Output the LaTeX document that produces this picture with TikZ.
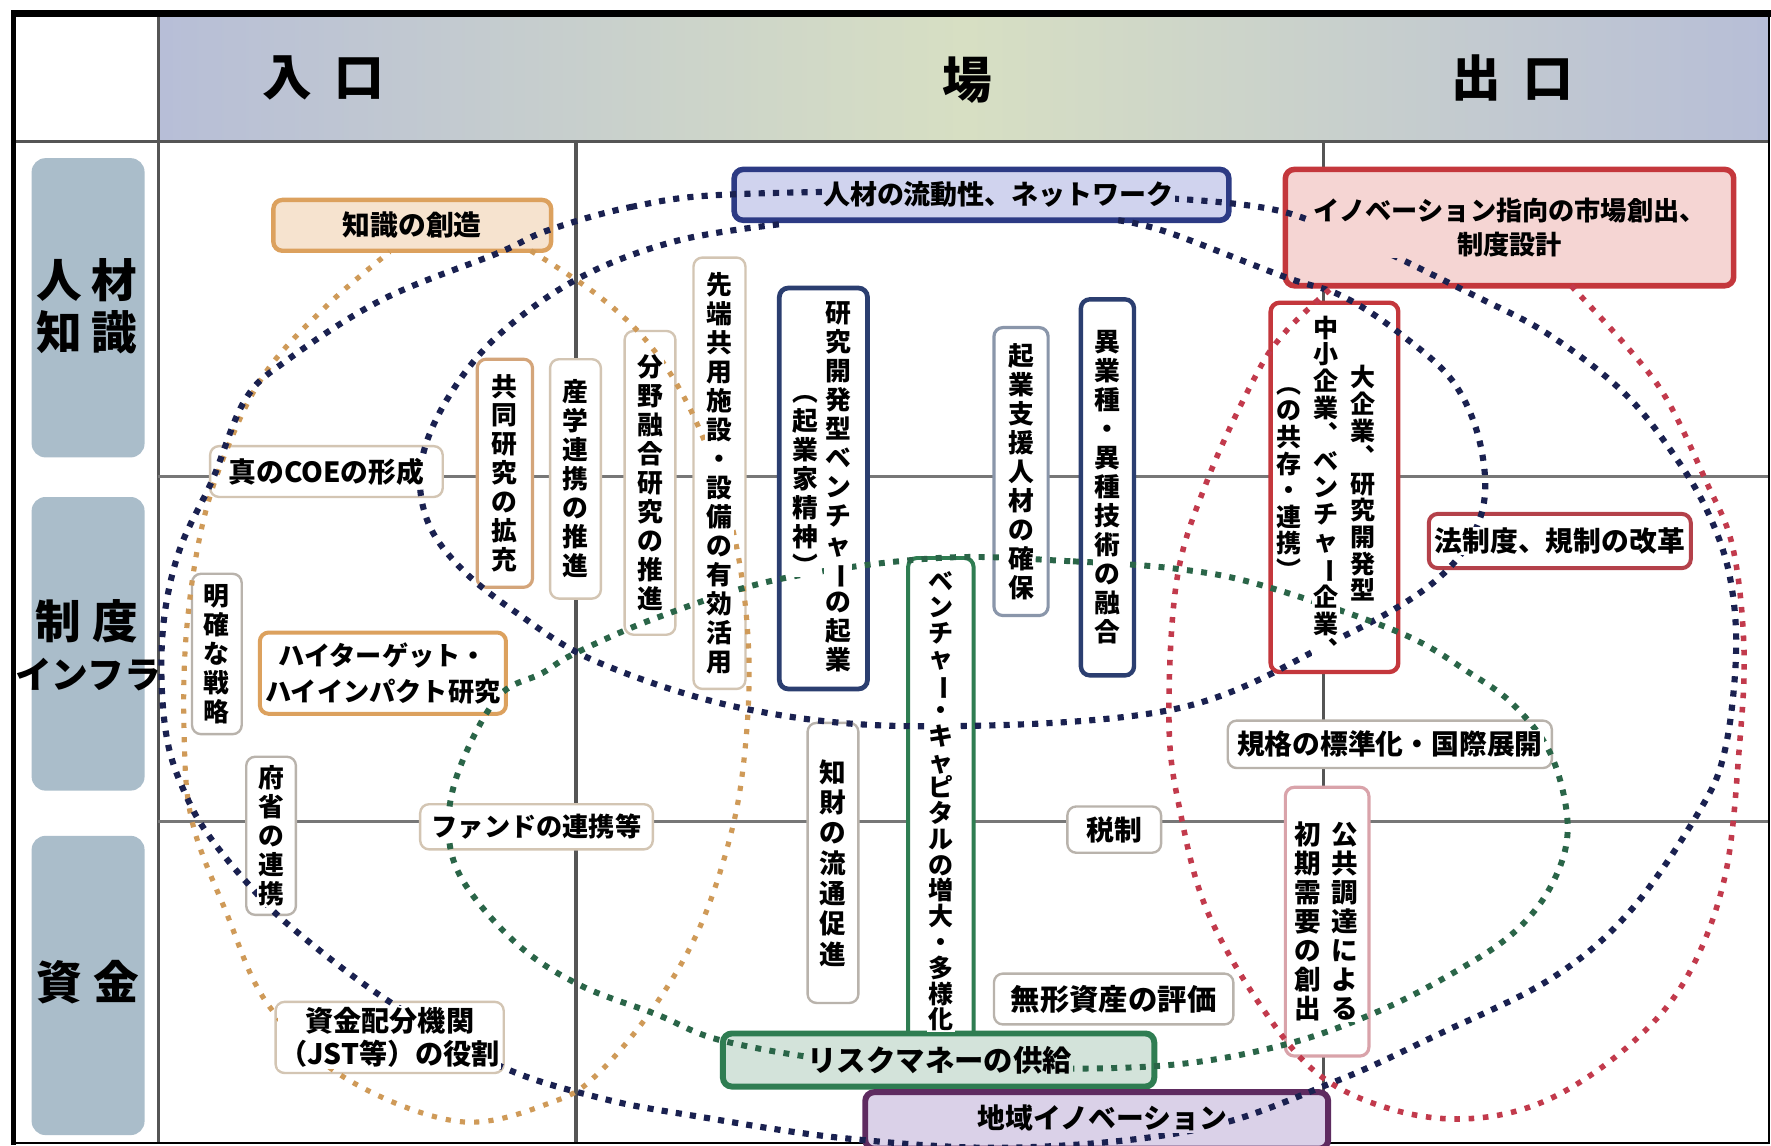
\documentclass[tikz,border=0pt]{standalone}
\usepackage{fontspec}
\setmainfont{Noto Sans CJK JP}
\usepackage{graphicx}
\definecolor{navyd}{HTML}{1A2150}
\definecolor{orgd}{HTML}{CF9A58}
\definecolor{grnd}{HTML}{2A6548}
\definecolor{redd}{HTML}{C23A4C}
\definecolor{hdrb}{HTML}{B7BED7}
\definecolor{hdrg}{HTML}{D7DFC3}
\definecolor{rowb}{HTML}{AABDCA}
\definecolor{gridc}{HTML}{555555}
\definecolor{orangeB}{HTML}{DCA15E}
\definecolor{orangeB2}{HTML}{D4A57A}
\definecolor{navyB}{HTML}{2C3A84}
\definecolor{navyB2}{HTML}{2B3E70}
\definecolor{redB}{HTML}{C4373C}
\definecolor{redB2}{HTML}{B4414A}
\definecolor{greenB}{HTML}{2F7D52}
\definecolor{purpB}{HTML}{5E2B60}
\definecolor{grayB}{HTML}{B9B3AC}
\definecolor{beigeB}{HTML}{D3C5B3}
\definecolor{blueG}{HTML}{8A96AA}
\definecolor{pinkB}{HTML}{D9A3AA}
\definecolor{peach}{HTML}{F6E3CF}
\definecolor{lav}{HTML}{D0D3EE}
\definecolor{pinkF}{HTML}{F5D5D3}
\definecolor{grnF}{HTML}{D3E3DA}
\definecolor{lav2}{HTML}{DAD1E8}
\newcommand\fs[2]{\fontsize{#1}{#2}\selectfont\bfseries}
\newcommand\vlong{\rotatebox[origin=c]{-90}{ー}}
\begin{document}
\begin{tikzpicture}[x=0.02cm,y=-0.02cm,
  bx/.style={draw=#1, rounded corners=4.5pt, line width=1.2pt, fill=white, inner sep=0pt},
  ht/.style={inner sep=0.6pt, font=\fs{14}{17}, align=center, fill=white},
  vt/.style={inner sep=0.6pt, font=\fs{13}{14.6}, align=center, fill=white},
  navydots/.style={draw=navyd, line width=3.1pt, dash pattern=on 3.1pt off 4.1pt},
  orgdots/.style={draw=orgd, line width=2.6pt, dash pattern=on 2.6pt off 4.6pt},
  grndots/.style={draw=grnd, line width=3.0pt, dash pattern=on 3.0pt off 4.2pt},
  reddots/.style={draw=redd, line width=2.8pt, dash pattern=on 2.8pt off 4.4pt},
  rowlab/.style={fill=rowb, rounded corners=7pt, inner sep=0pt},
  gline/.style={draw=gridc, line width=1.6pt}
]
\useasboundingbox (0,0) rectangle (1568,1014);
\fill[white] (0,0) rectangle (1568,1014);
% header band
\shade[left color=hdrb, right color=hdrb, middle color=hdrg] (142,15) rectangle (1566,124);
% row label boxes
\node[rowlab, minimum width=2.0cm, minimum height=5.3cm] (rl1) at (78,272.5) {};
\node[rowlab, minimum width=2.0cm, minimum height=5.2cm] (rl2) at (78,570) {};
\node[rowlab, minimum width=2.0cm, minimum height=5.3cm] (rl3) at (78,872.5) {};
% grid
\draw[gline] (12,125) -- (1566,125);
\draw[gline] (140,12) -- (140,1012);
\draw[gline] (510,125) -- (510,1012);
\draw[gline] (1172,125) -- (1172,1012);
\draw[draw=gridc!80, line width=1.5pt] (140,422) -- (1566,422);
\draw[draw=gridc!80, line width=1.5pt] (140,727) -- (1566,727);
% frame
\draw[black, line width=0.9pt] (12,12) rectangle (1566,1012);
\draw[black, line width=3.2pt] (10,12) -- (1568,12);
\draw[black, line width=2.8pt] (12,10) -- (12,1014);
% header texts
\node[font=\fs{25}{28}] (hin) at (286,69) {入\hspace{0.45em}口};
\node[font=\fs{25}{28}] (hba) at (856,71) {場};
\node[font=\fs{25}{28}] (hout) at (1339,69) {出\hspace{0.45em}口};
% row label texts
\node[font=\fs{23}{26}, align=center] (rl1t) at (77,271) {人\hspace{0.2em}材\\知\hspace{0.2em}識};
\node[font=\fs{23}{26}] (rl2a) at (77,550) {制\hspace{0.25em}度};
\node[font=\fs{18.5}{20}] (rl2b) at (78,597) {インフラ};
\node[font=\fs{23}{26}] (rl3t) at (78,870) {資\hspace{0.25em}金};

% ---------- boxes ----------
\node[bx=orangeB, line width=2.2pt, fill=peach, minimum width=4.92cm, minimum height=0.90cm] (chishiki) at (365,199.5) {};
\node[bx=navyB, line width=2.8pt, fill=lav, minimum width=8.76cm, minimum height=0.90cm] (jinzai) at (869,172.5) {};
\node[bx=redB, line width=2.8pt, fill=pinkF, minimum width=7.94cm, minimum height=2.06cm] (shijo) at (1336.5,201.5) {};
\node[bx=orangeB2, line width=1.6pt, minimum width=0.98cm, minimum height=4.04cm] (kyodo) at (447,419) {};
\node[bx=beigeB, minimum width=0.90cm, minimum height=4.24cm] (sangaku) at (509.5,424) {};
\node[bx=beigeB, minimum width=0.90cm, minimum height=5.38cm] (bunya) at (575.5,427.5) {};
\node[bx=beigeB, minimum width=0.92cm, minimum height=7.64cm] (sentan) at (637,419) {};
\node[bx=navyB2, line width=2.4pt, minimum width=1.56cm, minimum height=7.10cm] (kenkyu) at (729,432.5) {};
\node[bx=blueG, line width=1.6pt, minimum width=0.96cm, minimum height=5.10cm] (kigyo) at (904,417.5) {};
\node[bx=navyB2, line width=2.2pt, minimum width=0.94cm, minimum height=6.66cm] (igyo) at (980.5,431.5) {};
\node[bx=redB, line width=2.2pt, minimum width=2.26cm, minimum height=6.54cm] (dai) at (1181.5,431.5) {};
\node[bx=redB2, line width=2pt, minimum width=4.64cm, minimum height=0.96cm] (hosei) at (1381,479) {};
\node[bx=beigeB, minimum width=4.12cm, minimum height=0.90cm] (coe) at (289,417.5) {};
\node[bx=grayB, minimum width=0.88cm, minimum height=2.84cm] (meikaku) at (192,579) {};
\node[bx=orangeB, line width=2pt, minimum width=4.36cm, minimum height=1.44cm] (hight) at (339,596) {};
\node[bx=grayB, minimum width=5.74cm, minimum height=0.84cm] (kikaku) at (1230.5,659) {};
\node[bx=grayB, minimum width=0.88cm, minimum height=2.80cm] (fusho) at (240,740) {};
\node[bx=beigeB, minimum width=4.12cm, minimum height=0.80cm] (fund) at (475,732) {};
\node[bx=grayB, minimum width=0.90cm, minimum height=4.96cm] (chizai) at (737.5,764) {};
\node[bx=greenB, line width=2pt, minimum width=1.16cm, minimum height=8.62cm] (vc) at (833,709.5) {};
\node[bx=grayB, minimum width=1.66cm, minimum height=0.82cm] (zeisei) at (986.5,734.5) {};
\node[bx=grayB, minimum width=4.24cm, minimum height=0.90cm] (mukei) at (986,884.5) {};
\node[bx=pinkB, line width=1.6pt, minimum width=1.48cm, minimum height=4.76cm] (kokyo) at (1175,816) {};
\node[bx=beigeB, minimum width=4.04cm, minimum height=1.26cm] (shikin) at (345,918.5) {};
\node[bx=greenB, line width=3pt, fill=grnF, minimum width=7.64cm, minimum height=0.94cm] (risk) at (831,938.5) {};
\node[bx=purpB, line width=3pt, fill=lav2, minimum width=8.20cm, minimum height=1.00cm] (chiiki) at (971,992) {};

% ---------- dotted groupings ----------
% orange (entrance)
\draw[orgdots] plot[smooth, tension=0.6] coordinates {(470,222) (530,262) (575,305) (610,360) (638,430) (655,500) (663,580) (660,660) (648,735) (620,820) (580,890) (531,949) (491,975) (407,993) (305,954) (237,889) (200,807) (170,727) (163,650) (165,560) (178,470) (200,400) (235,330) (290,270) (345,223)};
% navy big
\draw[navydots] plot[smooth cycle, tension=0.6] coordinates {(650,172) (560,183) (485,204) (441,224) (339,265) (254,319) (217,354) (188,425) (160,484) (146,542) (143,602) (149,660) (165,705) (185,740) (220,783) (258,821) (339,883) (441,943) (531,972) (615,988) (750,1008) (900,1016) (1060,1000) (1181,958) (1273,916) (1374,866) (1443,807) (1504,719) (1527,665) (1537,580) (1532,513) (1515,460) (1487,410) (1440,350) (1374,298) (1306,262) (1185,205) (1090,180) (870,170)};
% navy upper ellipse
\draw[navydots] plot[smooth, tension=0.6] coordinates {(990,195) (1035,206) (1137,245) (1188,262) (1239,295) (1288,340) (1312,400) (1310,460) (1270,515) (1180,568) (1039,628) (818,643) (662,628) (531,587) (458,543) (407,502) (378,460) (373,410) (395,355) (440,298) (513,246) (600,213) (695,198)};
% green
\draw[grndots] plot[smooth cycle, tension=0.6] coordinates {(831,494) (950,497) (1045,504) (1120,519) (1239,560) (1300,595) (1341,625) (1374,670) (1388,733) (1374,783) (1341,825) (1289,860) (1219,896) (1137,925) (1035,943) (900,946) (760,941) (642,922) (581,898) (513,872) (458,836) (410,780) (397,733) (407,680) (441,617) (480,596) (510,578) (584,546) (689,513)};
% red (exit)
\draw[reddots] plot[smooth, tension=0.6] coordinates {(1391,253) (1443,310) (1476,354) (1510,425) (1534,484) (1544,573) (1540,661) (1527,777) (1493,866) (1443,925) (1374,972) (1307,990) (1239,984) (1171,954) (1120,896) (1069,807) (1045,719) (1035,640) (1042,513) (1069,425) (1110,336) (1137,295) (1181,253)};

% ---------- texts ----------
\node[ht, fill=peach] (chishikiT) at (chishiki) {知識の創造};
\node[ht, fill=lav, font=\fs{13.6}{16}] (jinzaiT) at (884,172) {人材の流動性、ネットワーク};
\node[ht, fill=pinkF, font=\fs{13.2}{17}] (shijoT) at (shijo) {イノベーション指向の市場創出、\\制度設計};
\node[ht] (coeT) at (coe) {真のCOEの形成};
\node[ht, font=\fs{13.2}{18}] (hightT) at (hight) {ハイターゲット・\\ハイインパクト研究};
\node[ht] (hoseiT) at (hosei) {法制度、規制の改革};
\node[ht] (kikakuT) at (kikaku) {規格の標準化・国際展開};
\node[ht, font=\fs{13.2}{16}] (fundT) at (fund) {ファンドの連携等};
\node[ht] (zeiseiT) at (zeisei) {税制};
\node[ht, font=\fs{14.8}{17}] (mukeiT) at (mukei) {無形資産の評価};
\node[ht, font=\fs{14.2}{17}] (shikinT) at (shikin) {資金配分機関\\（JST等）の役割};
\node[ht, fill=grnF, font=\fs{14.8}{17}] (riskT) at (832,939) {リスクマネーの供給};
\node[ht, fill=lav2] (chiikiT) at (976,990) {地域イノベーション};

\node[vt] (kyodoT) at (kyodo) {共\\同\\研\\究\\の\\拡\\充};
\node[vt] (sangakuT) at (sangaku) {産\\学\\連\\携\\の\\推\\進};
\node[vt] (bunyaT) at (bunya) {分\\野\\融\\合\\研\\究\\の\\推\\進};
\node[vt] (sentanT) at (sentan) {先\\端\\共\\用\\施\\設\\・\\設\\備\\の\\有\\効\\活\\用};
\node[vt] (kenkyuA) at (742,431) {研\\究\\開\\発\\型\\ベ\\ン\\チ\\ャ\\\vlong\\の\\起\\業};
\node[vt] (kenkyuB) at (713,430) {︵\\起\\業\\家\\精\\神\\︶};
\node[vt] (kigyoT) at (kigyo) {起\\業\\支\\援\\人\\材\\の\\確\\保};
\node[vt] (igyoT) at (igyo) {異\\業\\種\\・\\異\\種\\技\\術\\の\\融\\合};
\node[vt, font=\fs{12.6}{13.4}] (daiA) at (1207,428) {大\\企\\業\\︑\\研\\究\\開\\発\\型};
\node[vt, font=\fs{12.6}{13.4}] (daiB) at (1174,432) {中\\小\\企\\業\\︑\\ベ\\ン\\チ\\ャ\\\vlong\\企\\業\\︑};
\node[vt, font=\fs{12.6}{13.4}] (daiC) at (1141,428) {︵\\の\\共\\存\\・\\連\\携\\︶};
\node[vt] (meikakuT) at (meikaku) {明\\確\\な\\戦\\略};
\node[vt] (fushoT) at (fusho) {府\\省\\の\\連\\携};
\node[vt, font=\fs{13.4}{15.3}] (chizaiT) at (chizai) {知\\財\\の\\流\\通\\促\\進};
\node[vt, font=\fs{12.6}{13.0}] (vcT) at (vc) {ベ\\ン\\チ\\ャ\\\vlong\\・\\キ\\ャ\\ピ\\タ\\ル\\の\\増\\大\\・\\多\\様\\化};
\node[vt, font=\fs{13.4}{14.6}] (kokyoA) at (1191,816) {公\\共\\調\\達\\に\\よ\\る};
\node[vt, font=\fs{13.4}{14.6}] (kokyoB) at (1158,816) {初\\期\\需\\要\\の\\創\\出};
\end{tikzpicture}
\end{document}
